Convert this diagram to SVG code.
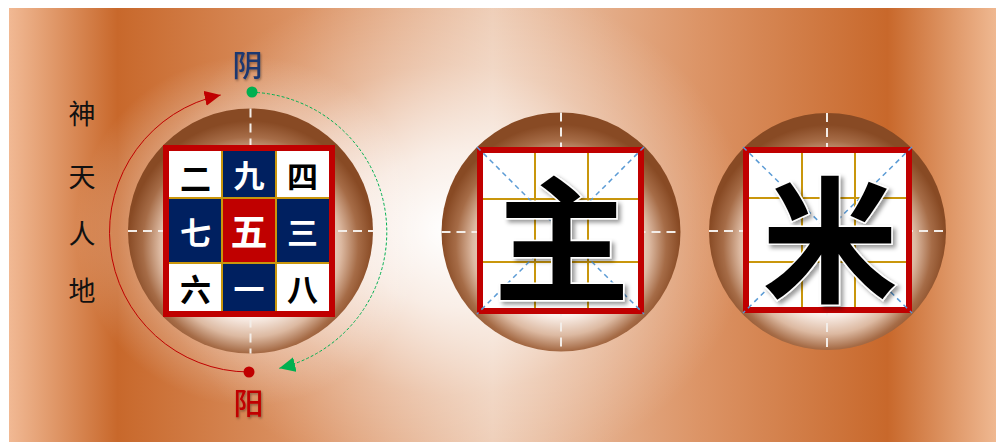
<svg xmlns="http://www.w3.org/2000/svg" width="996" height="442" viewBox="0 0 996 442">
  <defs>
    <linearGradient id="bgLin" x1="9" y1="0" x2="996" y2="0" gradientUnits="userSpaceOnUse">
      <stop offset="0" stop-color="#f1b994"/>
      <stop offset="0.11" stop-color="#c8682b"/>
      <stop offset="0.3" stop-color="#dc9466"/>
      <stop offset="0.49" stop-color="#edcab2"/>
      <stop offset="0.7" stop-color="#dc9466"/>
      <stop offset="0.89" stop-color="#c8682b"/>
      <stop offset="1" stop-color="#efb891"/>
    </linearGradient>
    <radialGradient id="glow" cx="450" cy="230" r="300" gradientUnits="userSpaceOnUse" gradientTransform="translate(450 230) scale(1 0.85) translate(-450 -230)">
      <stop offset="0" stop-color="#ffffff" stop-opacity="1"/>
      <stop offset="0.3" stop-color="#ffffff" stop-opacity="0.75"/>
      <stop offset="0.65" stop-color="#ffffff" stop-opacity="0.25"/>
      <stop offset="1" stop-color="#ffffff" stop-opacity="0"/>
    </radialGradient>
    <radialGradient id="glowSmall" cx="0.5" cy="0.5" r="0.5">
      <stop offset="0.6" stop-color="#ffffff" stop-opacity="0.35"/>
      <stop offset="1" stop-color="#ffffff" stop-opacity="0"/>
    </radialGradient>
    <radialGradient id="ball" cx="0.5" cy="0.55" r="0.5" fx="0.5" fy="0.6">
      <stop offset="0" stop-color="#ffffff"/>
      <stop offset="0.55" stop-color="#fcf3ee"/>
      <stop offset="0.74" stop-color="#dcb9a1"/>
      <stop offset="0.88" stop-color="#a66c47"/>
      <stop offset="1" stop-color="#884a24"/>
    </radialGradient>
    <marker id="arrRed" markerUnits="userSpaceOnUse" markerWidth="18" markerHeight="16" refX="16" refY="7.5" orient="auto">
      <path d="M0,0 L16,7.5 L0,15 Z" fill="#c00000"/>
    </marker>
    <marker id="arrGreen" markerUnits="userSpaceOnUse" markerWidth="18" markerHeight="16" refX="16" refY="7.5" orient="auto">
      <path d="M0,0 L16,7.5 L0,15 Z" fill="#00b050"/>
    </marker>
    <filter id="charShadow" x="-20%" y="-20%" width="140%" height="140%">
      <feDropShadow dx="3" dy="3" stdDeviation="2" flood-color="#000000" flood-opacity="0.4"/>
    </filter>
    <filter id="txtShadow" x="-20%" y="-20%" width="140%" height="140%">
      <feDropShadow dx="1" dy="1.5" stdDeviation="0.8" flood-color="#000000" flood-opacity="0.35"/>
    </filter>
  </defs>
  <style>
    .cross { stroke: #f3ede8; stroke-width: 2; stroke-dasharray: 9 6; fill: none; }
    .grid { stroke: #c9960c; stroke-width: 2; fill: none; }
    .diag { stroke: #5b9bd5; stroke-width: 1.5; stroke-dasharray: 5 4; fill: none; }
    .frame { fill: none; stroke: #c00000; stroke-width: 6; }
    .cell { font-family: "Noto Sans CJK SC", "Noto Sans CJK JP", sans-serif; font-weight: 700; font-size: 31px; text-anchor: middle; dominant-baseline: central; }
    .dark { fill: #000000; }
    .light { fill: #ffffff; }
    .big { font-family: "Noto Sans CJK SC", "Noto Sans CJK JP", sans-serif; font-weight: 700; font-size: 136px; text-anchor: middle; dominant-baseline: central; fill: #000000; stroke: #ffffff; stroke-width: 3; paint-order: stroke; }
    .side { font-family: "Noto Sans CJK SC", "Noto Sans CJK JP", sans-serif; font-weight: 400; font-size: 27px; text-anchor: middle; dominant-baseline: central; fill: #111111; }
    .yy { font-family: "Noto Sans CJK SC", "Noto Sans CJK JP", sans-serif; font-weight: 500; font-size: 30px; text-anchor: middle; dominant-baseline: central; }
  </style>

  <!-- background -->
  <rect x="9" y="8" width="987" height="434" fill="url(#bgLin)"/>
  <rect x="9" y="8" width="987" height="434" fill="url(#glow)"/>
  <circle cx="250" cy="231" r="175" fill="url(#glowSmall)"/>

  <!-- left vertical label -->
  <g id="side-label">
    <text class="side" x="82" y="112">神</text>
    <text class="side" x="82" y="175">天</text>
    <text class="side" x="82" y="232">人</text>
    <text class="side" x="82" y="289">地</text>
  </g>

  <!-- node 1: nine palace -->
  <g id="node-jiugong">
    <circle cx="250.5" cy="231" r="122.5" fill="url(#ball)"/>
    <line class="cross" x1="250.5" y1="108.5" x2="250.5" y2="353.5"/>
    <line class="cross" x1="128" y1="231" x2="373" y2="231"/>
    <rect x="163" y="145" width="172" height="172" fill="#c00000"/>
    <rect x="169" y="151" width="53" height="47" fill="#ffffff"/>
    <rect x="222" y="151" width="54" height="47" fill="#002060"/>
    <rect x="276" y="151" width="53" height="47" fill="#ffffff"/>
    <rect x="169" y="198" width="53" height="65" fill="#002060"/>
    <rect x="222" y="198" width="54" height="65" fill="#c00000"/>
    <rect x="276" y="198" width="53" height="65" fill="#002060"/>
    <rect x="169" y="263" width="53" height="48" fill="#ffffff"/>
    <rect x="222" y="263" width="54" height="48" fill="#002060"/>
    <rect x="276" y="263" width="53" height="48" fill="#ffffff"/>
    <path class="grid" d="M222,151 V311 M276,151 V311 M169,198 H329 M169,263 H329"/>
    <text class="cell dark" x="195.5" y="176">二</text>
    <text class="cell light" x="249" y="173">九</text>
    <text class="cell dark" x="302.5" y="174">四</text>
    <text class="cell light" x="195.5" y="230">七</text>
    <text class="cell light" x="249" y="230" style="font-size:37px">五</text>
    <text class="cell light" x="302.5" y="230">三</text>
    <text class="cell dark" x="195.5" y="287">六</text>
    <text class="cell light" x="249" y="287">一</text>
    <text class="cell dark" x="302.5" y="287">八</text>
  </g>

  <!-- yin / yang labels and dots -->
  <g id="node-yin">
    <text class="yy" x="247.5" y="63" fill="#1f3870" filter="url(#txtShadow)">阴</text>
    <circle cx="252" cy="92" r="5.5" fill="#00b050"/>
  </g>
  <g id="node-yang">
    <text class="yy" x="248.5" y="401" fill="#c00000" filter="url(#txtShadow)">阳</text>
    <circle cx="249" cy="372" r="5.5" fill="#c00000"/>
  </g>

  <!-- connectors -->
  <g id="connectors">
    <path d="M249,372 A140,140 0 0 1 220.7,95" fill="none" stroke="#c00000" stroke-width="1" marker-end="url(#arrRed)"/>
    <path d="M257,92.5 A140,140 0 0 1 279.3,368.3" fill="none" stroke="#00b050" stroke-width="1" stroke-dasharray="3 2" marker-end="url(#arrGreen)"/>
  </g>

  <!-- node 2: 主 -->
  <g id="node-zhu">
    <circle cx="561" cy="232" r="119.5" fill="url(#ball)"/>
    <line class="cross" x1="561" y1="112.5" x2="561" y2="351.5"/>
    <line class="cross" x1="441.5" y1="232" x2="680.5" y2="232"/>
    <rect x="480" y="150" width="161" height="161" fill="#ffffff"/>
    <path class="grid" d="M535,150 V311 M588,150 V311 M480,199 H641 M480,262 H641"/>
    <rect class="frame" x="480" y="150" width="161" height="161"/>
    <path class="diag" d="M477,147 L644,314 M644,147 L477,314"/>
    <text class="big" x="561.5" y="232" filter="url(#charShadow)">主</text>
  </g>

  <!-- node 3: 米 -->
  <g id="node-mi">
    <circle cx="827.5" cy="231.5" r="118.5" fill="url(#ball)"/>
    <line class="cross" x1="827" y1="113" x2="827" y2="350"/>
    <line class="cross" x1="709" y1="231" x2="946" y2="231"/>
    <rect x="746" y="150" width="163" height="160" fill="#ffffff"/>
    <path class="grid" d="M802,150 V310 M855,150 V310 M746,198 H909 M746,262 H909"/>
    <rect class="frame" x="746" y="150" width="163" height="160"/>
    <path class="diag" d="M743,147 L912,313 M912,147 L743,313"/>
    <text class="big" x="830" y="232" filter="url(#charShadow)">米</text>
  </g>
</svg>
